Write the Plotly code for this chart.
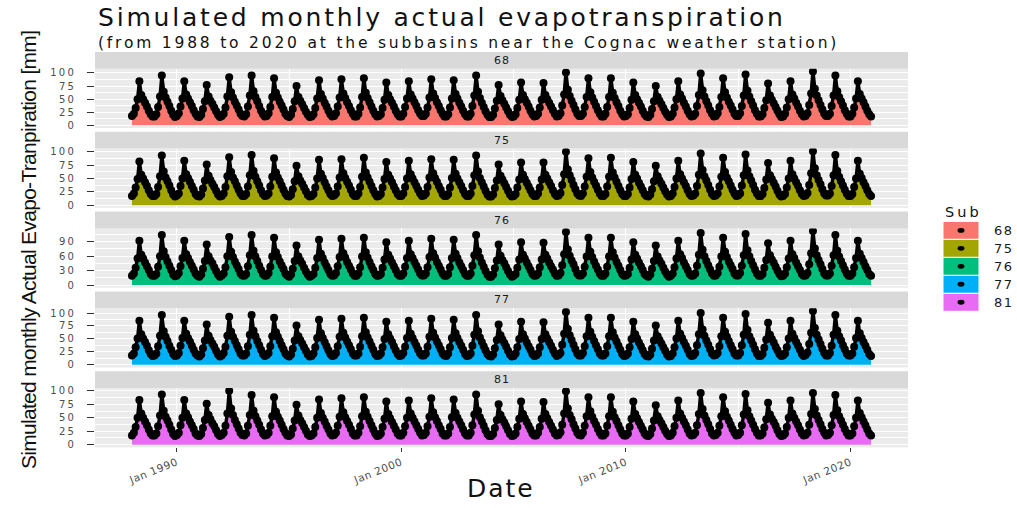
import pandas as pd
import plotly.graph_objects as go

# ---------------------------------------------------------------------------
# Data: simulated monthly actual evapotranspiration [mm], Jan..Dec per row,
# one row per year from 1988 to 2020, for each subbasin.
# ---------------------------------------------------------------------------
subbasins = ["68", "75", "76", "77", "81"]
fill_colors = ["#F8766D", "#A3A500", "#00BF7D", "#00B0F6", "#E76BF3"]

first_month = "1988-01-01"
last_month = "2020-12-01"

et_68 = [
    [18, 22, 33, 50, 84, 58, 50, 43, 36, 28, 21, 17],
    [17, 21, 35, 55, 95, 64, 53, 45, 37, 28, 20, 16],
    [18, 23, 36, 51, 84, 59, 51, 44, 37, 29, 22, 17],
    [16, 20, 31, 46, 77, 55, 47, 41, 34, 27, 20, 16],
    [18, 22, 34, 55, 92, 63, 53, 45, 38, 30, 22, 18],
    [17, 21, 36, 57, 95, 65, 54, 46, 37, 28, 21, 17],
    [18, 23, 35, 54, 90, 62, 53, 45, 38, 30, 22, 18],
    [16, 20, 31, 46, 75, 54, 47, 40, 33, 26, 20, 16],
    [17, 21, 33, 51, 86, 60, 51, 43, 36, 28, 21, 17],
    [18, 23, 36, 53, 88, 61, 52, 44, 37, 29, 22, 17],
    [17, 22, 34, 54, 90, 62, 52, 44, 36, 28, 21, 17],
    [18, 21, 33, 49, 82, 58, 50, 43, 36, 28, 21, 17],
    [17, 22, 35, 51, 84, 59, 51, 44, 37, 29, 22, 18],
    [18, 22, 34, 53, 88, 61, 52, 44, 37, 29, 22, 17],
    [17, 21, 34, 51, 86, 60, 51, 43, 36, 28, 21, 17],
    [17, 22, 37, 57, 95, 64, 52, 43, 35, 27, 20, 16],
    [16, 20, 32, 47, 77, 56, 48, 41, 34, 27, 20, 16],
    [17, 21, 33, 49, 82, 58, 50, 43, 36, 28, 21, 17],
    [18, 22, 34, 49, 81, 58, 50, 43, 36, 29, 22, 17],
    [18, 23, 38, 59, 101, 68, 56, 47, 39, 30, 22, 18],
    [18, 22, 35, 54, 90, 63, 53, 45, 37, 29, 22, 17],
    [17, 22, 35, 54, 90, 62, 52, 44, 37, 28, 21, 17],
    [18, 21, 33, 49, 82, 58, 50, 43, 36, 28, 21, 17],
    [16, 20, 31, 46, 75, 54, 47, 40, 33, 26, 20, 16],
    [17, 22, 34, 50, 84, 59, 51, 43, 36, 28, 21, 17],
    [18, 22, 37, 58, 99, 67, 55, 46, 38, 29, 22, 17],
    [18, 23, 35, 54, 90, 63, 53, 45, 38, 30, 22, 18],
    [18, 23, 37, 57, 97, 66, 55, 46, 38, 29, 22, 17],
    [17, 21, 33, 48, 80, 57, 49, 42, 35, 28, 21, 16],
    [17, 22, 34, 50, 84, 59, 51, 43, 36, 28, 21, 17],
    [18, 23, 39, 61, 103, 70, 57, 48, 39, 30, 22, 18],
    [18, 22, 37, 57, 95, 65, 54, 46, 38, 29, 22, 17],
    [17, 22, 34, 51, 84, 60, 51, 44, 36, 28, 21, 17],
]

et_75 = [
    [17, 22, 33, 49, 82, 57, 50, 43, 36, 28, 21, 17],
    [17, 21, 34, 54, 93, 63, 52, 45, 37, 28, 20, 16],
    [18, 22, 36, 50, 83, 58, 51, 44, 36, 29, 21, 17],
    [16, 20, 31, 46, 76, 55, 47, 40, 34, 27, 20, 16],
    [17, 22, 34, 54, 90, 62, 52, 45, 37, 29, 22, 17],
    [17, 21, 35, 56, 94, 64, 53, 45, 37, 28, 21, 17],
    [18, 22, 35, 53, 88, 61, 52, 45, 37, 29, 22, 17],
    [16, 19, 30, 45, 74, 54, 46, 40, 33, 26, 19, 16],
    [17, 21, 33, 50, 85, 59, 51, 43, 35, 28, 21, 17],
    [18, 22, 35, 52, 86, 60, 51, 44, 37, 29, 21, 17],
    [17, 22, 34, 53, 89, 61, 52, 44, 36, 28, 21, 16],
    [17, 21, 33, 49, 81, 57, 50, 43, 35, 28, 21, 17],
    [17, 22, 34, 50, 83, 58, 50, 43, 36, 29, 22, 17],
    [18, 22, 34, 52, 86, 60, 51, 44, 36, 29, 21, 17],
    [17, 21, 33, 51, 85, 59, 50, 43, 36, 28, 21, 17],
    [17, 22, 36, 56, 93, 63, 51, 43, 35, 27, 20, 16],
    [16, 20, 32, 46, 76, 55, 48, 41, 34, 27, 20, 16],
    [17, 21, 33, 48, 80, 57, 49, 42, 35, 28, 21, 17],
    [17, 22, 33, 48, 80, 57, 50, 43, 36, 28, 21, 17],
    [18, 23, 38, 58, 100, 67, 56, 47, 38, 30, 22, 18],
    [17, 22, 35, 53, 88, 62, 52, 44, 37, 29, 22, 17],
    [17, 21, 35, 53, 89, 61, 52, 44, 36, 28, 21, 17],
    [17, 21, 33, 49, 81, 57, 50, 42, 35, 28, 21, 17],
    [16, 20, 30, 45, 74, 54, 46, 40, 33, 26, 20, 16],
    [17, 22, 34, 50, 83, 58, 50, 43, 36, 28, 21, 17],
    [18, 22, 36, 57, 97, 66, 54, 46, 38, 29, 21, 17],
    [18, 22, 35, 53, 89, 62, 52, 45, 37, 29, 22, 17],
    [18, 22, 37, 56, 95, 65, 54, 46, 38, 29, 22, 17],
    [17, 21, 32, 48, 79, 56, 49, 42, 35, 27, 20, 16],
    [17, 21, 33, 50, 83, 58, 50, 43, 36, 28, 21, 17],
    [18, 23, 38, 60, 101, 69, 56, 47, 39, 30, 22, 18],
    [18, 22, 36, 56, 94, 64, 53, 45, 37, 29, 22, 17],
    [17, 21, 34, 50, 83, 59, 51, 43, 36, 28, 21, 17],
]

et_76 = [
    [19, 24, 36, 55, 92, 63, 55, 47, 39, 31, 23, 19],
    [19, 23, 38, 60, 104, 70, 58, 49, 40, 31, 22, 18],
    [20, 25, 39, 56, 92, 64, 56, 48, 40, 32, 24, 19],
    [17, 22, 34, 50, 84, 60, 51, 45, 37, 29, 22, 17],
    [20, 24, 37, 60, 100, 69, 58, 49, 41, 33, 24, 20],
    [19, 23, 39, 62, 104, 71, 59, 50, 40, 31, 23, 19],
    [20, 25, 38, 59, 98, 68, 58, 49, 41, 33, 24, 20],
    [17, 22, 34, 50, 82, 59, 51, 44, 36, 28, 22, 17],
    [19, 23, 36, 56, 94, 65, 56, 47, 39, 31, 23, 19],
    [20, 25, 39, 58, 96, 66, 57, 48, 40, 32, 24, 19],
    [19, 24, 37, 59, 98, 68, 57, 48, 39, 31, 23, 19],
    [20, 23, 36, 53, 89, 63, 55, 47, 39, 31, 23, 19],
    [19, 24, 38, 56, 92, 64, 56, 48, 40, 32, 24, 20],
    [20, 24, 37, 58, 96, 66, 57, 48, 40, 32, 24, 19],
    [19, 23, 37, 56, 94, 65, 56, 47, 39, 31, 23, 19],
    [19, 24, 40, 62, 104, 70, 57, 47, 38, 29, 22, 17],
    [17, 22, 35, 51, 84, 61, 52, 45, 37, 29, 22, 17],
    [19, 23, 36, 53, 89, 63, 55, 47, 39, 31, 23, 19],
    [20, 24, 37, 53, 88, 63, 55, 47, 39, 32, 24, 19],
    [20, 25, 41, 64, 110, 74, 61, 51, 43, 33, 24, 20],
    [20, 24, 38, 59, 98, 69, 58, 49, 40, 32, 24, 19],
    [19, 24, 38, 59, 98, 68, 57, 48, 40, 31, 23, 19],
    [20, 23, 36, 53, 89, 63, 55, 47, 39, 31, 23, 19],
    [17, 22, 34, 50, 82, 59, 51, 44, 36, 28, 22, 17],
    [19, 24, 37, 55, 92, 64, 56, 47, 39, 31, 23, 19],
    [20, 24, 40, 63, 108, 73, 60, 50, 41, 32, 24, 19],
    [20, 25, 38, 59, 98, 69, 58, 49, 41, 33, 24, 20],
    [20, 25, 40, 62, 106, 72, 60, 50, 41, 32, 24, 19],
    [19, 23, 36, 52, 87, 62, 53, 46, 38, 30, 23, 18],
    [19, 24, 37, 55, 92, 64, 56, 47, 39, 31, 23, 19],
    [20, 25, 43, 66, 112, 76, 62, 52, 43, 33, 24, 20],
    [20, 24, 40, 62, 104, 71, 59, 50, 41, 32, 24, 19],
    [19, 24, 37, 56, 92, 65, 56, 48, 39, 31, 23, 19],
]

et_77 = [
    [18, 22, 34, 51, 85, 59, 51, 44, 37, 28, 21, 17],
    [18, 22, 36, 56, 96, 65, 54, 46, 37, 29, 21, 17],
    [18, 23, 37, 52, 85, 60, 52, 45, 37, 29, 22, 18],
    [16, 20, 32, 47, 78, 56, 48, 41, 35, 27, 20, 16],
    [18, 23, 35, 56, 93, 64, 54, 46, 38, 30, 22, 18],
    [18, 22, 36, 58, 96, 66, 55, 46, 38, 29, 21, 17],
    [19, 23, 36, 55, 91, 63, 54, 46, 38, 30, 22, 18],
    [16, 20, 31, 47, 76, 55, 48, 41, 34, 27, 20, 16],
    [17, 22, 34, 52, 87, 61, 52, 44, 36, 28, 21, 17],
    [18, 23, 36, 54, 89, 62, 53, 45, 38, 30, 22, 18],
    [18, 22, 35, 55, 91, 63, 53, 45, 37, 29, 21, 17],
    [18, 22, 34, 50, 83, 59, 51, 44, 36, 28, 21, 17],
    [18, 23, 35, 52, 85, 60, 52, 44, 37, 29, 22, 18],
    [18, 22, 35, 54, 89, 62, 53, 45, 38, 30, 22, 18],
    [17, 22, 34, 52, 87, 61, 52, 44, 37, 29, 21, 17],
    [18, 22, 37, 58, 96, 65, 53, 44, 36, 28, 21, 17],
    [16, 20, 32, 48, 78, 57, 49, 42, 35, 27, 20, 16],
    [17, 22, 34, 50, 83, 59, 51, 43, 36, 29, 21, 17],
    [18, 22, 34, 50, 82, 59, 51, 44, 37, 29, 22, 17],
    [19, 23, 39, 60, 102, 69, 57, 48, 39, 30, 22, 18],
    [18, 23, 36, 55, 91, 64, 54, 46, 38, 30, 22, 18],
    [18, 22, 36, 55, 91, 63, 53, 45, 37, 29, 21, 17],
    [18, 22, 34, 50, 83, 59, 51, 43, 36, 28, 21, 17],
    [16, 20, 31, 47, 76, 55, 48, 41, 34, 27, 20, 16],
    [17, 22, 34, 51, 85, 60, 52, 44, 37, 29, 21, 17],
    [18, 23, 38, 59, 100, 68, 56, 47, 39, 30, 22, 18],
    [19, 23, 36, 55, 91, 64, 54, 46, 38, 30, 22, 18],
    [18, 23, 38, 58, 98, 67, 55, 47, 39, 30, 22, 17],
    [17, 21, 33, 49, 81, 58, 50, 43, 35, 28, 21, 17],
    [18, 22, 34, 51, 85, 60, 52, 44, 37, 29, 21, 17],
    [19, 24, 40, 62, 104, 71, 58, 49, 40, 31, 23, 18],
    [18, 23, 37, 58, 96, 66, 55, 47, 38, 30, 22, 18],
    [18, 22, 35, 52, 85, 61, 52, 44, 37, 29, 21, 17],
]

et_81 = [
    [17, 22, 33, 50, 83, 58, 50, 43, 36, 28, 21, 17],
    [17, 21, 34, 54, 93, 63, 52, 45, 37, 28, 20, 16],
    [18, 22, 36, 50, 83, 58, 51, 43, 36, 29, 21, 17],
    [16, 20, 31, 46, 76, 55, 47, 40, 34, 27, 20, 16],
    [18, 22, 35, 58, 100, 67, 55, 46, 38, 30, 22, 18],
    [17, 21, 35, 55, 92, 63, 53, 45, 37, 28, 21, 17],
    [18, 22, 35, 53, 88, 61, 52, 45, 37, 29, 22, 17],
    [16, 19, 30, 45, 74, 54, 46, 40, 33, 26, 19, 16],
    [17, 21, 33, 50, 84, 59, 50, 43, 35, 28, 21, 17],
    [18, 22, 35, 52, 86, 60, 51, 44, 37, 29, 21, 17],
    [17, 22, 34, 53, 88, 61, 52, 44, 36, 28, 21, 16],
    [17, 21, 33, 48, 80, 57, 49, 42, 35, 28, 21, 17],
    [17, 22, 34, 50, 82, 58, 50, 43, 36, 29, 22, 17],
    [18, 22, 34, 52, 86, 60, 51, 44, 36, 29, 21, 17],
    [17, 21, 33, 51, 84, 59, 50, 43, 36, 28, 21, 17],
    [17, 22, 36, 56, 93, 63, 51, 43, 35, 27, 20, 16],
    [16, 20, 31, 46, 75, 55, 47, 41, 34, 27, 20, 16],
    [17, 21, 33, 48, 80, 57, 49, 42, 35, 28, 21, 17],
    [17, 22, 33, 48, 79, 57, 49, 42, 35, 28, 21, 17],
    [18, 23, 37, 58, 99, 67, 55, 47, 38, 30, 22, 18],
    [17, 22, 35, 53, 88, 62, 52, 44, 37, 29, 22, 17],
    [17, 21, 35, 53, 88, 61, 51, 44, 36, 28, 21, 17],
    [17, 21, 33, 48, 80, 57, 49, 42, 35, 28, 21, 17],
    [16, 20, 30, 45, 73, 53, 46, 40, 33, 26, 20, 16],
    [17, 22, 34, 50, 82, 58, 50, 43, 36, 28, 21, 17],
    [18, 22, 36, 57, 96, 66, 54, 46, 38, 29, 21, 17],
    [18, 22, 35, 53, 88, 62, 52, 45, 37, 29, 22, 17],
    [18, 22, 36, 56, 94, 64, 53, 45, 37, 29, 22, 17],
    [17, 21, 32, 47, 78, 56, 48, 42, 35, 27, 20, 16],
    [17, 21, 33, 50, 82, 58, 50, 43, 36, 28, 21, 17],
    [18, 22, 37, 57, 96, 66, 54, 46, 38, 29, 22, 17],
    [18, 22, 36, 55, 92, 64, 53, 45, 37, 29, 22, 17],
    [17, 21, 34, 50, 82, 59, 51, 43, 36, 28, 21, 17],
]

et_by_sub = {"68": et_68, "75": et_75, "76": et_76, "77": et_77, "81": et_81}

# axis breaks
x_break_dates = ["1990-01-01", "2000-01-01", "2010-01-01", "2020-01-01"]
x_break_labels = ["Jan 1990", "Jan 2000", "Jan 2010", "Jan 2020"]
x_minor_dates = ["1995-01-01", "2005-01-01", "2015-01-01"]
y_breaks = {
    "68": [0, 25, 50, 75, 100],
    "75": [0, 25, 50, 75, 100],
    "76": [0, 30, 60, 90],
    "77": [0, 25, 50, 75, 100],
    "81": [0, 25, 50, 75, 100],
}

title_text = "Simulated monthly actual evapotranspiration"
subtitle_text = "(from 1988 to 2020 at the subbasins near the Cognac weather station)"
y_title = "Simulated monthly Actual Evapo-Tranpiration [mm]"
x_title = "Date"
legend_title = "Sub"

# ---------------------------------------------------------------------------
# Figure geometry (pixels)
# ---------------------------------------------------------------------------
W, H = 1017, 508
panel_left, panel_right = 95, 908
strip_top0 = 49.5
strip_h = 17.0
plot_h = 60.0
panel_step = 80.8

TEXT_FONT = "DejaVu Sans"
AXIS_TITLE_FONT = "Liberation Sans"


def px_x(x):
    return x / W


def px_y(y):
    return 1 - y / H


def spaced(text, spacing):
    """Wrap text in a span with extra letter spacing (px)."""
    return f'<span style="letter-spacing:{spacing}px">{text}</span>'


months = pd.date_range(first_month, last_month, freq="MS")
span = months[-1] - months[0]
x_range = [months[0] - 0.05 * span, months[-1] + 0.05 * span]

fig = go.Figure()
layout = {}
shapes = []
annotations = []

for i, sub in enumerate(subbasins):
    n = i + 1
    xa = "x" if n == 1 else f"x{n}"
    ya = "y" if n == 1 else f"y{n}"
    values = [v for row in et_by_sub[sub] for v in row]

    fig.add_trace(go.Scatter(
        x=months, y=values,
        mode="lines+markers",
        fill="tozeroy", fillcolor=fill_colors[i],
        line=dict(color="black", width=3.4),
        marker=dict(color="black", size=8),
        xaxis=xa, yaxis=ya,
        showlegend=False, hoverinfo="skip",
    ))

    s_top = strip_top0 + panel_step * i
    p_top = s_top + strip_h
    p_bot = p_top + plot_h
    vmax = max(values)
    breaks = y_breaks[sub]
    step = breaks[1] - breaks[0]
    is_bottom = (n == len(subbasins))

    layout["xaxis" if n == 1 else f"xaxis{n}"] = dict(
        domain=[px_x(panel_left), px_x(panel_right)],
        anchor=ya, type="date", range=x_range,
        matches=None if n == 1 else "x",
        tickmode="array", tickvals=x_break_dates,
        ticktext=[spaced(t, 0.6) for t in x_break_labels],
        showticklabels=is_bottom,
        ticks="outside" if is_bottom else "", ticklen=4, tickcolor="#333333",
        tickangle=-22 if is_bottom else 0,
        tickfont=dict(family=TEXT_FONT, size=10.5, color="#4d4d4d"),
        showgrid=True, gridcolor="white", gridwidth=1.2,
        minor=dict(tickmode="array", tickvals=x_minor_dates,
                   showgrid=True, gridcolor="white", gridwidth=0.6),
        zeroline=False, showline=False,
    )
    layout["yaxis" if n == 1 else f"yaxis{n}"] = dict(
        domain=[px_y(p_bot), px_y(p_top)],
        anchor=xa, range=[-0.05 * vmax, 1.05 * vmax],
        tickmode="array", tickvals=breaks,
        ticktext=[spaced(str(b), 2.2) for b in breaks],
        ticks="outside", ticklen=7, tickcolor="#333333", tickwidth=1,
        ticklabelstandoff=9,
        tickfont=dict(family=TEXT_FONT, size=10, color="#4d4d4d"),
        showgrid=True, gridcolor="white", gridwidth=1.2,
        minor=dict(tickmode="array",
                   tickvals=[b + step / 2 for b in breaks],
                   showgrid=True, gridcolor="white", gridwidth=0.6),
        zeroline=False, showline=False,
    )

    # facet strip
    shapes.append(dict(type="rect", xref="paper", yref="paper",
                       x0=px_x(panel_left), x1=px_x(panel_right),
                       y0=px_y(p_top), y1=px_y(s_top),
                       fillcolor="#d9d9d9", line=dict(width=0), layer="below"))
    annotations.append(dict(xref="paper", yref="paper",
                            x=px_x((panel_left + panel_right) / 2),
                            y=px_y(s_top + strip_h / 2),
                            text=spaced(sub, 1), showarrow=False,
                            xanchor="center", yanchor="middle",
                            font=dict(family=TEXT_FONT, size=11, color="#1a1a1a")))

# titles
annotations.append(dict(xref="paper", yref="paper", x=px_x(96), y=px_y(14.5),
                        text=spaced(title_text, 2.8), showarrow=False,
                        xanchor="left", yanchor="middle",
                        font=dict(family=TEXT_FONT, size=25, color="#111111")))
annotations.append(dict(xref="paper", yref="paper", x=px_x(96), y=px_y(40),
                        text=spaced(subtitle_text, 2.8), showarrow=False,
                        xanchor="left", yanchor="middle",
                        font=dict(family=TEXT_FONT, size=15.5, color="#111111")))
annotations.append(dict(xref="paper", yref="paper", x=px_x(28), y=px_y(250),
                        text=spaced(y_title, -0.7), showarrow=False, textangle=-90,
                        xanchor="center", yanchor="middle",
                        font=dict(family=AXIS_TITLE_FONT, size=21, color="#111111")))
annotations.append(dict(xref="paper", yref="paper", x=px_x(501), y=0,
                        text=spaced(x_title, 2), showarrow=False,
                        xanchor="center", yanchor="bottom",
                        font=dict(family=TEXT_FONT, size=25, color="#111111")))

# legend: title, colour keys with a black point, labels
key_left, key_w = 943, 36
key_top0, key_h = 221, 18.2
annotations.append(dict(xref="paper", yref="paper", x=px_x(key_left), y=px_y(211),
                        text=spaced(legend_title, 3), showarrow=False,
                        xanchor="left", yanchor="middle",
                        font=dict(family=TEXT_FONT, size=14.5, color="#111111")))
for i, sub in enumerate(subbasins):
    k_top = key_top0 + key_h * i
    k_bot = k_top + key_h
    shapes.append(dict(type="rect", xref="paper", yref="paper",
                       x0=px_x(key_left), x1=px_x(key_left + key_w),
                       y0=px_y(k_bot), y1=px_y(k_top),
                       fillcolor=fill_colors[i], line=dict(color="white", width=1)))
    cx, cy = key_left + key_w / 2, (k_top + k_bot) / 2
    shapes.append(dict(type="circle", xref="paper", yref="paper",
                       x0=px_x(cx - 3.5), x1=px_x(cx + 3.5),
                       y0=px_y(cy + 2.5), y1=px_y(cy - 2.5),
                       fillcolor="black", line=dict(width=0)))
    annotations.append(dict(xref="paper", yref="paper",
                            x=px_x(key_left + key_w + 13), y=px_y(cy),
                            text=spaced(sub, 1.5), showarrow=False,
                            xanchor="left", yanchor="middle",
                            font=dict(family=TEXT_FONT, size=13, color="#1a1a1a")))

fig.update_layout(
    width=W, height=H,
    margin=dict(l=0, r=0, t=0, b=0),
    paper_bgcolor="white", plot_bgcolor="#ebebeb",
    showlegend=False,
    shapes=shapes, annotations=annotations,
    **layout,
)

fig.write_html("out.html")
